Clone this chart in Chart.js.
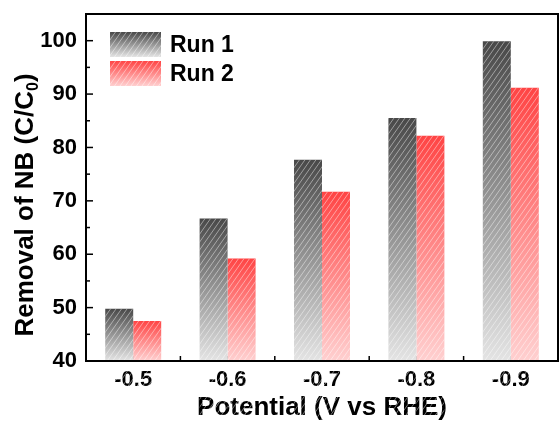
<!DOCTYPE html>
<html>
<head>
<meta charset="utf-8">
<script src="https://cdn.jsdelivr.net/npm/chart.js@4.4.0/dist/chart.umd.min.js"></script>
<style>
    body { margin: 0; background: #fff; }
    #wrap { width: 560px; height: 423px; }
</style>
</head>
<body>
<div id="wrap"><canvas id="removalChart"></canvas></div>
<script>
    const potentials = ['-0.5', '-0.6', '-0.7', '-0.8', '-0.9'];
    const run1 = [49.8, 66.7, 77.7, 85.5, 99.9];
    const run2 = [47.5, 59.2, 71.7, 82.2, 91.2];
    const seriesNames = ['Run 1', 'Run 2'];
    const yMin = 40, yMax = 105, yStep = 10;

    const greyShade = ['rgb(72,72,72)', 'rgb(228,228,228)'];
    const redShade = ['rgb(255,68,68)', 'rgb(255,208,208)'];
    const FONT = 'Arial, "Liberation Sans", sans-serif';

    // gradient from top of each bar to the base
    function barFill(shade) {
        return ctx => {
            const chart = ctx.chart;
            if (!chart.chartArea || ctx.type !== 'data') return shade[0];
            const y = chart.scales.y;
            const top = y.getPixelForValue(ctx.raw);
            const base = y.getPixelForValue(y.min);
            const g = chart.ctx.createLinearGradient(0, top, 0, base);
            g.addColorStop(0, shade[0]);
            g.addColorStop(1, shade[1]);
            return g;
        };
    }

    function hatch(c, left, top, w, h) {
        c.save();
        c.beginPath();
        c.rect(left, top, w, h);
        c.clip();
        c.strokeStyle = 'rgba(255,255,255,0.45)';
        c.lineWidth = 1;
        const slope = 0.7;
        c.beginPath();
        for (let x0 = left - h * slope; x0 < left + w; x0 += 5.5) {
            c.moveTo(x0, top + h);
            c.lineTo(x0 + h * slope, top);
        }
        c.stroke();
        c.restore();
    }

    const decor = {
        id: 'decor',
        beforeDatasetsDraw(chart) {
            const c = chart.ctx, a = chart.chartArea, x = chart.scales.x;
            c.save();
            c.strokeStyle = '#999';
            c.lineWidth = 1.5;
            x.ticks.forEach((t, i) => {
                const px = x.getPixelForTick(i);
                c.beginPath();
                c.moveTo(px, a.bottom);
                c.lineTo(px, a.bottom - 5);
                c.stroke();
            });
            c.restore();
        },
        afterDatasetsDraw(chart) {
            const c = chart.ctx;
            chart.data.datasets.forEach((ds, di) => {
                chart.getDatasetMeta(di).data.forEach(bar => {
                    hatch(c, bar.x - bar.width / 2, bar.y, bar.width, bar.base - bar.y);
                });
            });
        },
        afterDraw(chart) {
            const c = chart.ctx, a = chart.chartArea;
            const x = chart.scales.x, y = chart.scales.y;
            c.save();
            c.strokeStyle = '#000';
            c.lineWidth = 2;
            c.strokeRect(a.left, a.top, a.right - a.left, a.bottom - a.top);

            // y ticks, inward
            c.lineWidth = 1.5;
            for (let v = yMin; v < yMax; v += yStep / 2) {
                const py = y.getPixelForValue(v);
                const len = (v - yMin) % yStep === 0 ? 7 : 4;
                c.beginPath();
                c.moveTo(a.left, py);
                c.lineTo(a.left + len, py);
                c.stroke();
            }
            // x ticks between categories
            for (let i = 0; i < potentials.length - 1; i++) {
                const px = (x.getPixelForTick(i) + x.getPixelForTick(i + 1)) / 2;
                c.beginPath();
                c.moveTo(px, a.bottom);
                c.lineTo(px, a.bottom - 5);
                c.stroke();
            }

            // legend
            const shades = [greyShade, redShade];
            c.font = 'bold 23px ' + FONT;
            c.textBaseline = 'middle';
            c.fillStyle = '#000';
            seriesNames.forEach((name, i) => {
                const bx = 110, by = 32 + i * 29, bw = 51, bh = 25;
                const g = c.createLinearGradient(0, by, 0, by + bh);
                g.addColorStop(0, shades[i][0]);
                g.addColorStop(1, shades[i][1]);
                c.fillStyle = g;
                c.fillRect(bx, by, bw, bh);
                hatch(c, bx, by, bw, bh);
                c.fillStyle = '#000';
                c.fillText(name, 170, by + bh / 2 + 1);
            });

            // y axis title with subscript
            c.translate(33, 205);
            c.rotate(-Math.PI / 2);
            c.textBaseline = 'alphabetic';
            const big = 'bold 26px ' + FONT, small = 'bold 16px ' + FONT;
            const p1 = 'Removal of NB (C/C', p2 = '0', p3 = ')';
            c.font = big;
            const w1 = c.measureText(p1).width, w3 = c.measureText(p3).width;
            c.font = small;
            const w2 = c.measureText(p2).width;
            let sx = -(w1 + w2 + w3) / 2;
            c.font = big;
            c.fillText(p1, sx, 0);
            sx += w1;
            c.font = small;
            c.fillText(p2, sx, 5);
            sx += w2;
            c.font = big;
            c.fillText(p3, sx, 0);
            c.restore();
        }
    };

    new Chart(document.getElementById('removalChart'), {
        type: 'bar',
        data: {
            labels: potentials,
            datasets: [
                { label: seriesNames[0], data: run1, backgroundColor: barFill(greyShade), borderWidth: 0 },
                { label: seriesNames[1], data: run2, backgroundColor: barFill(redShade), borderWidth: 0 }
            ]
        },
        options: {
            responsive: true,
            maintainAspectRatio: false,
            animation: false,
            layout: { padding: { left: 0, top: 14, right: 2, bottom: 0 } },
            datasets: { bar: { categoryPercentage: 0.593, barPercentage: 1 } },
            plugins: { legend: { display: false }, tooltip: { enabled: false } },
            scales: {
                x: {
                    offset: true,
                    grid: { display: false, drawTicks: false },
                    border: { display: false },
                    ticks: { color: '#000', font: { family: FONT, size: 22, weight: 'bold' }, padding: 6 },
                    title: {
                        display: true,
                        text: 'Potential (V vs RHE)',
                        color: '#000',
                        font: { family: FONT, size: 26, weight: 'bold' },
                        padding: 0
                    },
                    afterFit: s => { s.height = 62; s.paddingLeft = 0; s.paddingRight = 0; }
                },
                y: {
                    min: yMin,
                    max: yMax,
                    grid: { display: false, drawTicks: false },
                    border: { display: false },
                    ticks: {
                        stepSize: yStep,
                        includeBounds: false,
                        color: '#000',
                        padding: 9,
                        font: { family: FONT, size: 22, weight: 'bold' }
                    },
                    afterFit: s => { s.width = 86; s.paddingTop = 0; s.paddingBottom = 0; }
                }
            }
        },
        plugins: [decor]
    });
</script>
</body>
</html>
